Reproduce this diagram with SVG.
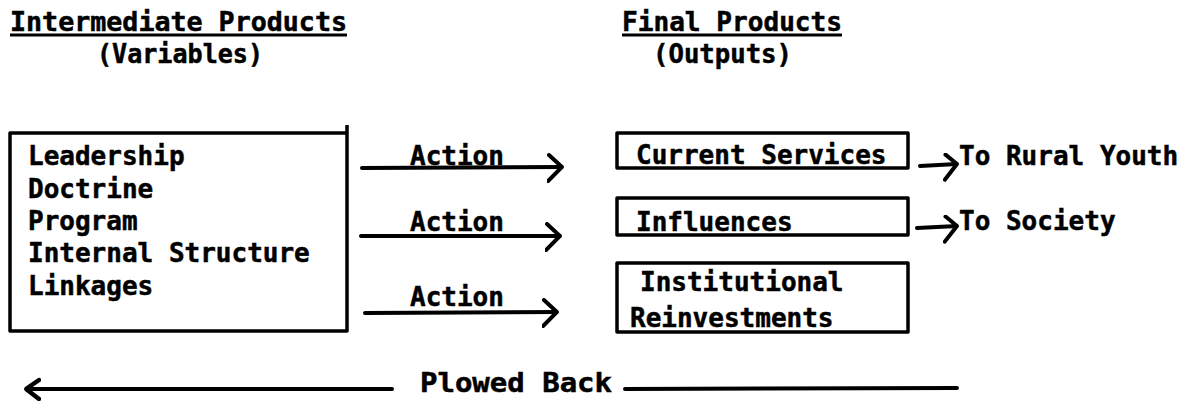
<svg xmlns="http://www.w3.org/2000/svg" width="1183" height="404" viewBox="0 0 1183 404">
<style>
  text { font-family: "DejaVu Sans Mono", "Liberation Mono", monospace; font-weight: bold; font-size: 26px; fill: #000; stroke: #000; stroke-width: 0.5; }
  .box { fill: none; stroke: #000; stroke-width: 3.5; stroke-linejoin: round; }
  .ln { fill: none; stroke: #000; stroke-width: 4; stroke-linecap: round; }
  .ul { stroke: #000; stroke-width: 3; }
</style>
<defs>
  <marker id="chev" viewBox="0 0 16 30" refX="15" refY="14" markerWidth="16" markerHeight="30" markerUnits="userSpaceOnUse" orient="auto">
    <path d="M2,2 L15,14 L1,28" fill="none" stroke="#000" stroke-width="4" stroke-linecap="round" stroke-linejoin="round"/>
  </marker>
  <marker id="chev-s" viewBox="0 0 16 30" refX="15" refY="12" markerWidth="16" markerHeight="30" markerUnits="userSpaceOnUse" orient="auto">
    <path d="M4,2 L15,12 L2,27" fill="none" stroke="#000" stroke-width="4" stroke-linecap="round" stroke-linejoin="round"/>
  </marker>
  <marker id="chev-l" viewBox="0 0 16 24" refX="15" refY="12" markerWidth="16" markerHeight="24" markerUnits="userSpaceOnUse" orient="auto">
    <path d="M2,2 L15,12 L2,21" fill="none" stroke="#000" stroke-width="4.5" stroke-linecap="round" stroke-linejoin="round"/>
  </marker>
</defs>

<g id="heading-intermediate">
  <text x="10" y="31" textLength="337" lengthAdjust="spacingAndGlyphs">Intermediate Products</text>
  <line class="ul" x1="10" y1="35" x2="347" y2="35"/>
  <text x="97" y="63" textLength="166" lengthAdjust="spacingAndGlyphs">(Variables)</text>
</g>

<g id="heading-final">
  <text x="622" y="31" textLength="220" lengthAdjust="spacingAndGlyphs">Final Products</text>
  <line class="ul" x1="622" y1="35" x2="842" y2="35"/>
  <text x="653" y="63" textLength="139" lengthAdjust="spacingAndGlyphs">(Outputs)</text>
</g>

<g id="node-variables">
  <path class="box" d="M10,133 H347 V331 H10 Z M347,125 V133"/>
  <text x="28" y="165">Leadership</text>
  <text x="28" y="198">Doctrine</text>
  <text x="28" y="230">Program</text>
  <text x="28" y="262">Internal Structure</text>
  <text x="28" y="295">Linkages</text>
</g>

<g id="node-current-services">
  <rect class="box" x="617" y="133" width="291" height="35"/>
  <text x="636" y="164">Current Services</text>
</g>

<g id="node-influences">
  <rect class="box" x="617" y="198" width="291" height="37"/>
  <text x="636" y="231">Influences</text>
</g>

<g id="node-institutional-reinvestments">
  <rect class="box" x="617" y="263" width="291" height="69"/>
  <text x="640" y="291">Institutional</text>
  <text x="630" y="327">Reinvestments</text>
</g>

<g id="target-rural-youth">
  <text x="959" y="165">To Rural Youth</text>
</g>

<g id="target-society">
  <text x="959" y="230">To Society</text>
</g>

<g id="connectors">
  <line class="ln" x1="362" y1="168" x2="562" y2="167" marker-end="url(#chev)"/>
  <text x="410" y="165">Action</text>
  <line class="ln" x1="361" y1="236" x2="560" y2="236" marker-end="url(#chev)"/>
  <text x="410" y="231">Action</text>
  <line class="ln" x1="365" y1="313" x2="557" y2="312" marker-end="url(#chev)"/>
  <text x="410" y="306">Action</text>

  <line class="ln" x1="920" y1="166" x2="957" y2="164" marker-end="url(#chev-s)"/>
  <line class="ln" x1="917" y1="228" x2="957" y2="226" marker-end="url(#chev-s)"/>

  <line class="ln" x1="392" y1="389" x2="26" y2="389" marker-end="url(#chev-l)"/>
  <text x="420" y="392" textLength="192" lengthAdjust="spacingAndGlyphs">Plowed Back</text>
  <line class="ln" x1="625" y1="389" x2="957" y2="388"/>
</g>
</svg>
